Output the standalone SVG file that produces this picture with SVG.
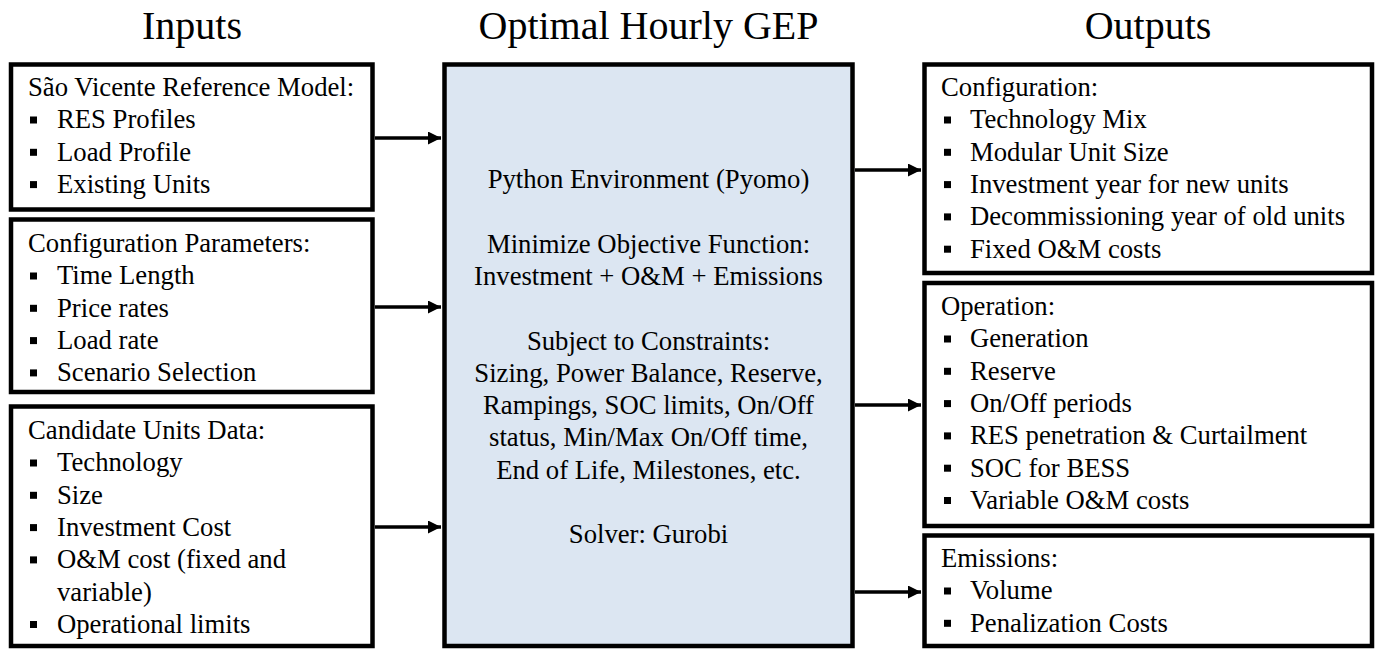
<svg xmlns="http://www.w3.org/2000/svg" width="1378" height="650" viewBox="0 0 1378 650">
<style>
text{font-family:"Liberation Serif","Times New Roman",serif;fill:#000}
.title{font-size:40px;text-anchor:middle}
.t{font-size:26.7px}
.c{font-size:26.7px;text-anchor:middle}
.box{fill:#fff;stroke:#000;stroke-width:4.5}
.core{fill:#dce6f2;stroke:#000;stroke-width:4.5}
.conn{stroke:#000;stroke-width:3.5;fill:none;marker-end:url(#ah)}
.b{fill:#000}
</style>
<defs>
<marker id="ah" markerUnits="userSpaceOnUse" markerWidth="13" markerHeight="13" refX="13" refY="6.5" orient="auto">
<path d="M0,0 L13,6.5 L0,13 z" fill="#000"/>
</marker>
</defs>
<rect width="1378" height="650" fill="#fff"/>
<g id="titles">
<text class="title" x="192" y="39">Inputs</text>
<text class="title" x="648.5" y="39">Optimal Hourly GEP</text>
<text class="title" x="1148" y="39">Outputs</text>
</g>
<g id="connectors">
<line class="conn" x1="375" y1="138" x2="441" y2="138"/>
<line class="conn" x1="375" y1="307" x2="441" y2="307"/>
<line class="conn" x1="375" y1="527" x2="441" y2="527"/>
<line class="conn" x1="855" y1="170" x2="921" y2="170"/>
<line class="conn" x1="855" y1="405" x2="921" y2="405"/>
<line class="conn" x1="855" y1="592" x2="921" y2="592"/>
</g>
<g id="in-reference">
<rect class="box" x="11" y="64.5" width="361.5" height="145"/>
<text class="t" x="28" y="96">São Vicente Reference Model:</text>
<rect class="b" x="30" y="116.5" width="7" height="7"/><text class="t" x="57" y="128.3">RES Profiles</text>
<rect class="b" x="30" y="148.8" width="7" height="7"/><text class="t" x="57" y="160.6">Load Profile</text>
<rect class="b" x="30" y="181.1" width="7" height="7"/><text class="t" x="57" y="192.9">Existing Units</text>
</g>
<g id="in-config">
<rect class="box" x="11" y="219.5" width="361.5" height="172.5"/>
<text class="t" x="28" y="252">Configuration Parameters:</text>
<rect class="b" x="30" y="272.5" width="7" height="7"/><text class="t" x="57" y="284.3">Time Length</text>
<rect class="b" x="30" y="304.8" width="7" height="7"/><text class="t" x="57" y="316.6">Price rates</text>
<rect class="b" x="30" y="337.1" width="7" height="7"/><text class="t" x="57" y="348.9">Load rate</text>
<rect class="b" x="30" y="369.4" width="7" height="7"/><text class="t" x="57" y="381.2">Scenario Selection</text>
</g>
<g id="in-candidates">
<rect class="box" x="11" y="406.5" width="361.5" height="239.5"/>
<text class="t" x="28" y="439">Candidate Units Data:</text>
<rect class="b" x="30" y="459.5" width="7" height="7"/><text class="t" x="57" y="471.3">Technology</text>
<rect class="b" x="30" y="491.8" width="7" height="7"/><text class="t" x="57" y="503.6">Size</text>
<rect class="b" x="30" y="524.1" width="7" height="7"/><text class="t" x="57" y="535.9">Investment Cost</text>
<rect class="b" x="30" y="556.4" width="7" height="7"/><text class="t" x="57" y="568.2">O&amp;M cost (fixed and</text>
<text class="t" x="57" y="600.5">variable)</text>
<rect class="b" x="30" y="621" width="7" height="7"/><text class="t" x="57" y="632.8">Operational limits</text>
</g>
<g id="core">
<rect class="core" x="444.5" y="64.5" width="408" height="581.5"/>
<text class="c" x="648.5" y="188">Python Environment (Pyomo)</text>
<text class="c" x="648.5" y="252.6">Minimize Objective Function:</text>
<text class="c" x="648.5" y="284.9">Investment + O&amp;M + Emissions</text>
<text class="c" x="648.5" y="349.5">Subject to Constraints:</text>
<text class="c" x="648.5" y="381.8">Sizing, Power Balance, Reserve,</text>
<text class="c" x="648.5" y="414.1">Rampings, SOC limits, On/Off</text>
<text class="c" x="648.5" y="446.4">status, Min/Max On/Off time,</text>
<text class="c" x="648.5" y="478.7">End of Life, Milestones, etc.</text>
<text class="c" x="648.5" y="543.3">Solver: Gurobi</text>
</g>
<g id="out-configuration">
<rect class="box" x="924.5" y="64.5" width="447.5" height="208.5"/>
<text class="t" x="941" y="96">Configuration:</text>
<rect class="b" x="944" y="116.5" width="7" height="7"/><text class="t" x="970" y="128.3">Technology Mix</text>
<rect class="b" x="944" y="148.8" width="7" height="7"/><text class="t" x="970" y="160.6">Modular Unit Size</text>
<rect class="b" x="944" y="181.1" width="7" height="7"/><text class="t" x="970" y="192.9">Investment year for new units</text>
<rect class="b" x="944" y="213.4" width="7" height="7"/><text class="t" x="970" y="225.2">Decommissioning year of old units</text>
<rect class="b" x="944" y="245.7" width="7" height="7"/><text class="t" x="970" y="257.5">Fixed O&amp;M costs</text>
</g>
<g id="out-operation">
<rect class="box" x="924.5" y="283" width="447.5" height="243"/>
<text class="t" x="941" y="315">Operation:</text>
<rect class="b" x="944" y="335.5" width="7" height="7"/><text class="t" x="970" y="347.3">Generation</text>
<rect class="b" x="944" y="367.8" width="7" height="7"/><text class="t" x="970" y="379.6">Reserve</text>
<rect class="b" x="944" y="400.1" width="7" height="7"/><text class="t" x="970" y="411.9">On/Off periods</text>
<rect class="b" x="944" y="432.4" width="7" height="7"/><text class="t" x="970" y="444.2">RES penetration &amp; Curtailment</text>
<rect class="b" x="944" y="464.7" width="7" height="7"/><text class="t" x="970" y="476.5">SOC for BESS</text>
<rect class="b" x="944" y="497" width="7" height="7"/><text class="t" x="970" y="508.8">Variable O&amp;M costs</text>
</g>
<g id="out-emissions">
<rect class="box" x="924.5" y="535.5" width="447.5" height="110.5"/>
<text class="t" x="941" y="567">Emissions:</text>
<rect class="b" x="944" y="587.5" width="7" height="7"/><text class="t" x="970" y="599.3">Volume</text>
<rect class="b" x="944" y="619.8" width="7" height="7"/><text class="t" x="970" y="631.6">Penalization Costs</text>
</g>
</svg>
